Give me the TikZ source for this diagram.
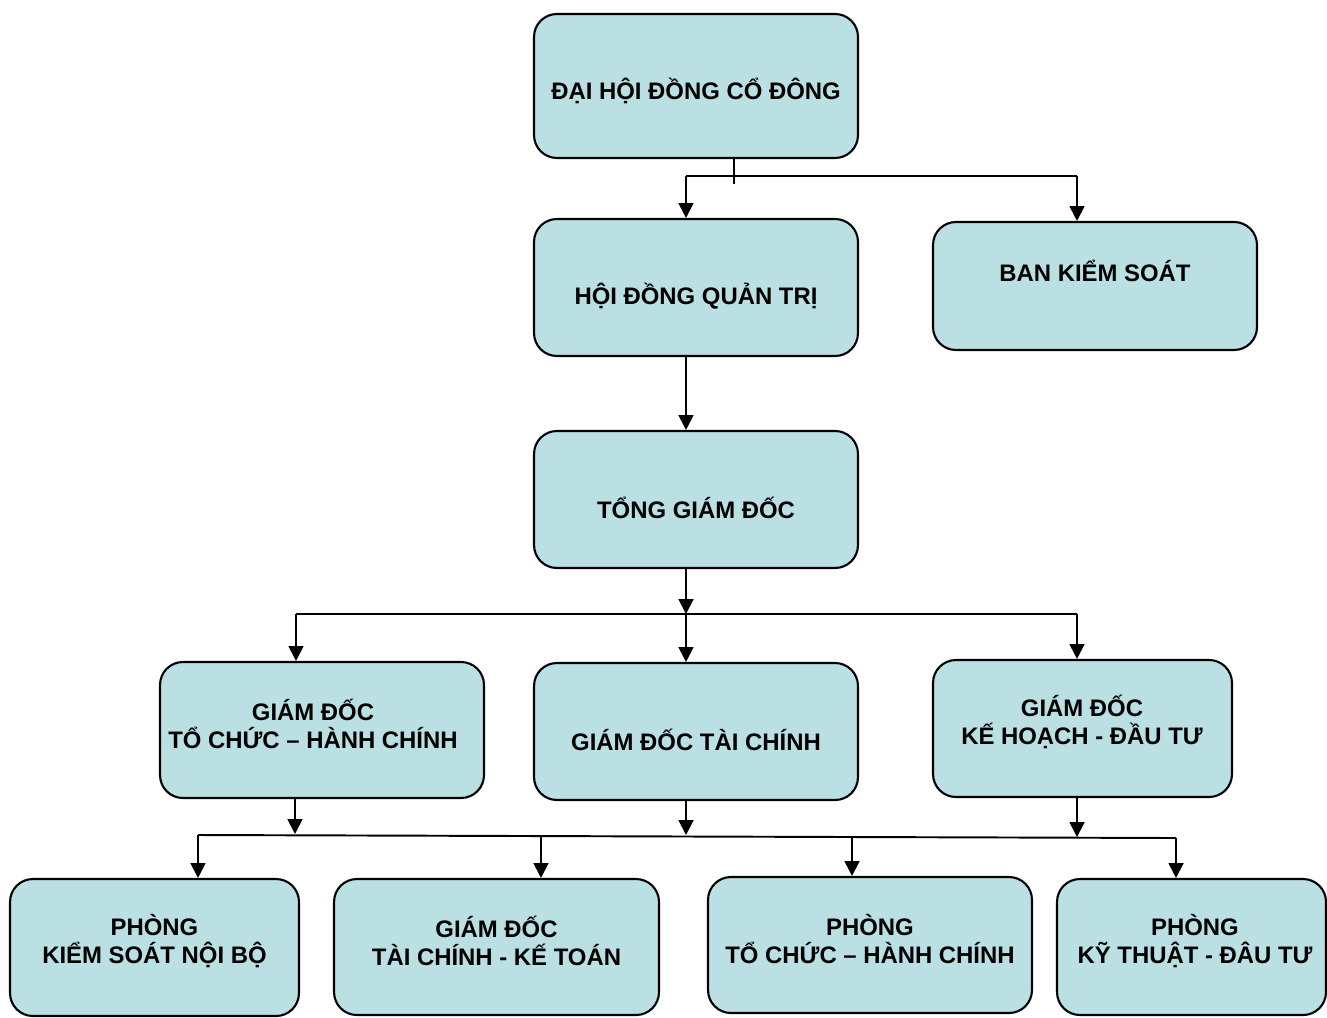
\documentclass[tikz,border=0pt]{standalone}
\usepackage{fontspec}
\setmainfont{Liberation Sans}
\usetikzlibrary{arrows.meta}
\definecolor{boxfill}{RGB}{186,224,227}
\begin{document}
\begin{tikzpicture}[x=0.02cm,y=-0.02cm,
  box/.style={draw=black, line width=1.2pt, fill=boxfill, rounded corners=13pt, inner sep=0pt},
  lbl/.style={font=\bfseries\fontsize{13.6}{16}\selectfont, align=center, inner sep=0pt},
  ln/.style={line width=1.1pt},
  arr/.style={line width=1.1pt, -{Triangle[length=8.5pt,width=8.5pt]}}]
\useasboundingbox (0,0) rectangle (1327,1017);
% boxes
\node[box, minimum width=6.48cm, minimum height=2.88cm] (b1) at (696,86) {};
\node[box, minimum width=6.48cm, minimum height=2.74cm] (b2) at (696,287.5) {};
\node[box, minimum width=6.48cm, minimum height=2.56cm] (b3) at (1095,286) {};
\node[box, minimum width=6.48cm, minimum height=2.74cm] (b4) at (696,499.5) {};
\node[box, minimum width=6.48cm, minimum height=2.72cm] (b5) at (322,730) {};
\node[box, minimum width=6.48cm, minimum height=2.74cm] (b6) at (696,731.5) {};
\node[box, minimum width=5.98cm, minimum height=2.74cm] (b7) at (1082.5,728.5) {};
\node[box, minimum width=5.78cm, minimum height=2.74cm] (b8) at (154.5,947.5) {};
\node[box, minimum width=6.50cm, minimum height=2.72cm] (b9) at (496.5,947) {};
\node[box, minimum width=6.48cm, minimum height=2.72cm] (b10) at (870,945) {};
\node[box, minimum width=5.38cm, minimum height=2.72cm] (b11) at (1191.5,947) {};
% labels
\node[lbl] (t1) at (696,91) {ĐẠI HỘI ĐỒNG CỔ ĐÔNG};
\node[lbl] (t2) at (696,296) {HỘI ĐỒNG QUẢN TRỊ};
\node[lbl] (t3) at (1095,271) {BAN KIỂM SOÁT};
\node[lbl] (t4) at (696,508) {TỔNG GIÁM ĐỐC};
\node[lbl] (t5) at (313,724) {GIÁM ĐỐC\\TỔ CHỨC – HÀNH CHÍNH};
\node[lbl] (t6) at (696,740) {GIÁM ĐỐC TÀI CHÍNH};
\node[lbl] (t7) at (1082,722) {GIÁM ĐỐC\\KẾ HOẠCH - ĐẦU TƯ};
\node[lbl] (t8) at (154.5,941) {PHÒNG\\KIỂM SOÁT NỘI BỘ};
\node[lbl] (t9) at (496.5,941) {GIÁM ĐỐC\\TÀI CHÍNH - KẾ TOÁN};
\node[lbl] (t10) at (870,939) {PHÒNG\\TỔ CHỨC – HÀNH CHÍNH};
\node[lbl] (t11) at (1195,941) {PHÒNG\\KỸ THUẬT - ĐÂU TƯ};
% level 1 connectors
\coordinate (s1) at (734,184);
\coordinate (h1a) at (686,176);
\coordinate (h1b) at (1077,176);
\draw[ln] (s1 |- b1.south) -- (s1);
\draw[ln] (h1a) -- (h1b);
\draw[arr] (h1a) -- (h1a |- b2.north);
\draw[arr] (h1b) -- (h1b |- b3.north);
% level 2
\draw[arr] (h1a |- b2.south) -- (h1a |- b4.north);
% level 3
\coordinate (h2a) at (296,614);
\coordinate (h2m) at (686,614);
\coordinate (h2b) at (1077,614);
\draw[arr] (h2m |- b4.south) -- (h2m);
\draw[ln] (h2a) -- (h2b);
\draw[arr] (h2a) -- (h2a |- b5.north);
\draw[arr] (h2m) -- (h2m |- b6.north);
\draw[arr] (h2b) -- (h2b |- b7.north);
% level 4
\coordinate (u1) at (295,834);
\coordinate (u2) at (686,835);
\coordinate (u3) at (1077,837);
\coordinate (h3a) at (198,835);
\coordinate (h3b) at (1176,838);
\draw[arr] (u1 |- b5.south) -- (u1);
\draw[arr] (u2 |- b6.south) -- (u2);
\draw[arr] (u3 |- b7.south) -- (u3);
\draw[ln] (h3a) -- (h3b);
\coordinate (d1) at (198,835);
\coordinate (d2) at (541,836);
\coordinate (d3) at (852,837);
\coordinate (d4) at (1176,838);
\draw[arr] (d1) -- (d1 |- b8.north);
\draw[arr] (d2) -- (d2 |- b9.north);
\draw[arr] (d3) -- (d3 |- b10.north);
\draw[arr] (d4) -- (d4 |- b11.north);
\end{tikzpicture}
\end{document}
